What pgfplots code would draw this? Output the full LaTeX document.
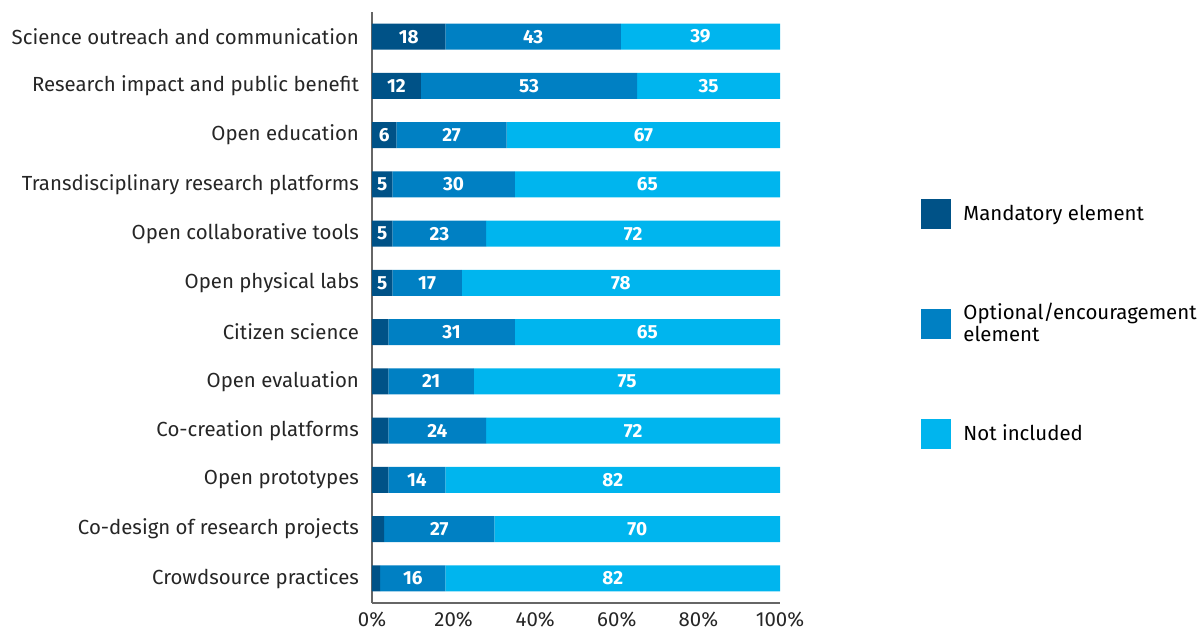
\documentclass[border=0pt]{standalone}
\usepackage{pgfplots}
\pgfplotsset{compat=1.18}
\usepackage{pgfplotstable}
\usepackage{fontspec}
\setmainfont{Fira Sans}
\definecolor{cDark}{HTML}{005287}
\definecolor{cMid}{HTML}{0080C3}
\definecolor{cLight}{HTML}{00B5EE}
\pgfplotstableread{
idx mand opt not
0 18 43 39
1 12 53 35
2 6 27 67
3 5 30 65
4 5 23 72
5 5 17 78
6 4 31 65
7 4 21 75
8 4 24 72
9 4 14 82
10 3 27 70
11 2 16 82
}\data
\begin{document}
\begin{tikzpicture}
\useasboundingbox (-186pt,-13pt) rectangle (415.5pt,301.5pt);
\begin{axis}[
  scale only axis,
  width=204pt, height=295.5pt,
  xbar stacked,
  bar width=0.53,
  xmin=0, xmax=100,
  ymin=-0.5, ymax=11.5,
  y dir=reverse,
  axis x line=bottom, axis y line=left,
  axis line style={-, gray!80!black, line width=0.6pt},
  xtick={0,20,40,60,80,100},
  xticklabels={0\%,20\%,40\%,60\%,80\%,100\%},
  ytick={0,...,11},
  yticklabels={Science outreach and communication,Research impact and public benefit,Open education,Transdisciplinary research platforms,Open collaborative tools,Open physical labs,Citizen science,Open evaluation,Co-creation platforms,Open prototypes,Co-design of research projects,Crowdsource practices},
  major tick length=0pt,
  tick label style={font=\fontsize{10.2}{12}\selectfont, text=black!85},
  xticklabel style={yshift=-1pt},
  yticklabel style={xshift=-3pt},
  point meta=rawx,
  visualization depends on={rawx \as \myx},
  nodes near coords={\pgfmathtruncatemacro\v{\myx}\ifnum\v<5\else\v\fi},
  every node near coord/.append style={anchor=center, font=\fontsize{9.5}{11}\selectfont\bfseries, text=white},
  legend style={at={(rel axis cs:1.3456,0.6836)}, anchor=north west, draw=none, fill=none,
    font=\fontsize{10.2}{11}\selectfont, row sep=35pt, inner sep=0pt,
    nodes={inner xsep=6pt, align=left}},
  legend cell align=left,
  legend image code/.code={\fill[#1, draw=none] (0pt,-7.5pt) rectangle (15pt,7.5pt);},
]
\addplot[fill=cDark, draw=none] table[x=mand, y=idx] {\data};
\addplot[fill=cMid, draw=none] table[x=opt, y=idx] {\data};
\addplot[fill=cLight, draw=none] table[x=not, y=idx] {\data};
\legend{Mandatory element, {Optional/encouragement\\element}, Not included}
\end{axis}
\end{tikzpicture}
\end{document}
